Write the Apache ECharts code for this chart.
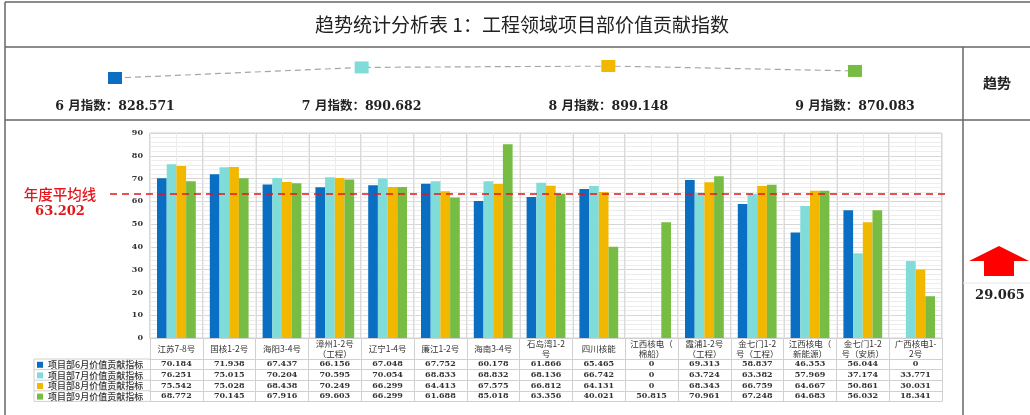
<!DOCTYPE html>
<html>
<head>
<meta charset="utf-8">
<script src="https://cdn.jsdelivr.net/npm/echarts@6.0.0/dist/echarts.min.js"></script>
<style>
html, body { margin: 0; padding: 0; background: #fff; }
#main { width: 1030px; height: 415px; }
</style>
</head>
<body>
<div id="main"></div>
<script>
const title = '趋势统计分析表 1：工程领域项目部价值贡献指数'
const months = ['6', '7', '8', '9']
const monthIndex = [828.571, 890.682, 899.148, 870.083]
const trendLabel = '趋势'
const trendDelta = 29.065
const avgName = '年度平均线'
const yearAvg = 63.202
const yTicks = [0, 10, 20, 30, 40, 50, 60, 70, 80, 90]

const categories = [
	'江苏7-8号', '国核1-2号', '海阳3-4号', '漳州1-2号\n（工程）', '辽宁1-4号',
	'廉江1-2号', '海南3-4号', '石岛湾1-2\n号', '四川核能', '江西核电（\n棉船）',
	'霞浦1-2号\n（工程）', '金七门1-2\n号（工程）', '江西核电（\n新能源）', '金七门1-2\n号（安质）', '广西核电1-\n2号',
]
const seriesNames = ['项目部6月价值贡献指标', '项目部7月价值贡献指标', '项目部8月价值贡献指标', '项目部9月价值贡献指标']
const jun = [70.184, 71.938, 67.437, 66.156, 67.048, 67.752, 60.178, 61.866, 65.465, 0, 69.313, 58.837, 46.353, 56.044, 0]
const jul = [76.251, 75.015, 70.204, 70.595, 70.054, 68.833, 68.832, 68.136, 66.742, 0, 63.724, 63.382, 57.969, 37.174, 33.771]
const aug = [75.542, 75.028, 68.438, 70.249, 66.299, 64.413, 67.575, 66.812, 64.131, 0, 68.343, 66.759, 64.667, 50.861, 30.031]
const sep = [68.772, 70.145, 67.916, 69.603, 66.299, 61.688, 85.018, 63.356, 40.021, 50.815, 70.961, 67.248, 64.683, 56.032, 18.341]

const colors = ['#0a6fc2', '#7fdcd8', '#f2b800', '#77bc43']
const serif = '"DejaVu Serif", "Noto Sans CJK SC", serif'
const cjk = '"Noto Sans CJK SC", sans-serif'

// layout of the chart block and the table under it
const plot = { left: 150, right: 942, top: 133, bottom: 338 }
const headH = 21
const rowH = 10.6
const lineColor = '#666'
const cellColor = '#d0d0d0'

const fmt = v => (v === 0 ? '0' : v.toFixed(3))
const monthData = [jun, jul, aug, sep]

const chart = echarts.init(document.getElementById('main'))

// table rows: one category axis per month, its ticks draw the cell borders
const rowAxes = monthData.map((arr, i) => ({
	type: 'category',
	gridIndex: 1,
	position: 'bottom',
	offset: headH + i * rowH,
	data: arr.map(fmt),
	axisLine: { show: true, lineStyle: { color: cellColor, width: 1 } },
	axisTick: { show: true, interval: 0, length: rowH, lineStyle: { color: cellColor } },
	axisLabel: {
		interval: 0, margin: rowH / 2, verticalAlign: 'middle',
		fontFamily: serif, fontWeight: 'bold', fontSize: 8, color: '#333',
	},
	splitLine: { show: false },
}))

const frame = [
	[5, 2, 1030, 2], [5, 2, 5, 415], [5, 47, 1030, 47], [963, 47, 963, 415], [5, 120, 1030, 120],
]
const legendCells = []
for (let i = 0; i <= 4; i++) {
	const y = plot.bottom + headH + i * rowH
	legendCells.push({ type: 'line', shape: { x1: 34, y1: y, x2: plot.left, y2: y }, style: { stroke: cellColor, lineWidth: 1 } })
}
legendCells.push({ type: 'line', shape: { x1: 34, y1: plot.bottom + headH, x2: 34, y2: plot.bottom + headH + 4 * rowH }, style: { stroke: cellColor, lineWidth: 1 } })

const option = {
	animation: false,
	grid: [
		{ left: 115, right: 1030 - 855, top: 66, height: 12 },
		{ left: plot.left, right: 1030 - plot.right, top: plot.top, bottom: 415 - plot.bottom, show: true, borderColor: cellColor, borderWidth: 1 },
		{ left: 110, right: 80, top: plot.top, bottom: 415 - plot.bottom },
	],
	legend: {
		data: seriesNames,
		orient: 'vertical',
		left: 37,
		top: plot.bottom + headH + 0.5,
		padding: 0,
		itemGap: 0,
		itemWidth: 6,
		itemHeight: 6,
		icon: 'rect',
		selectedMode: false,
		textStyle: { fontFamily: cjk, fontSize: 9, fontWeight: 500, lineHeight: rowH, height: rowH, color: '#333', padding: 0 },
	},
	xAxis: [
		{
			type: 'category', gridIndex: 0, data: months, boundaryGap: false,
			axisLine: { show: false }, axisTick: { show: false }, splitLine: { show: false },
			axisLabel: {
				margin: 22, fontFamily: serif, fontWeight: 'bold', fontSize: 12.5, color: '#222',
				formatter: (v, i) => `${v} 月指数：${monthIndex[i].toFixed(3)}`,
			},
		},
		{
			type: 'category', gridIndex: 1, data: categories, position: 'bottom',
			axisLine: { show: true, lineStyle: { color: cellColor } },
			axisTick: { show: true, interval: 0, length: headH, lineStyle: { color: cellColor } },
			splitLine: { show: true, interval: 0, lineStyle: { color: '#d0d0d0', width: 1.5 } },
			axisLabel: {
				interval: 0, margin: headH / 2, verticalAlign: 'middle', lineHeight: 10,
				fontFamily: cjk, fontSize: 8.5, color: '#333',
			},
		},
		{
			type: 'value', gridIndex: 1, position: 'top', min: 0, max: categories.length * 2, interval: 1,
			axisLine: { show: false }, axisTick: { show: false }, axisLabel: { show: false },
			splitLine: { show: true, lineStyle: { color: '#ececec', width: 1 } },
		},
		...rowAxes,
		{
			type: 'category', gridIndex: 1, position: 'bottom', offset: headH + 4 * rowH, data: categories,
			axisLine: { show: true, lineStyle: { color: cellColor } },
			axisTick: { show: false }, axisLabel: { show: false }, splitLine: { show: false },
		},
		{ type: 'value', gridIndex: 2, min: 0, max: 1, show: false },
	],
	yAxis: [
		{ type: 'value', gridIndex: 0, min: v => v.min, max: v => v.max, show: false },
		{
			type: 'value', gridIndex: 1, min: yTicks[0], max: yTicks[yTicks.length - 1], interval: yTicks[1] - yTicks[0],
			axisLine: { show: false }, axisTick: { show: false },
			axisLabel: { margin: 7, fontFamily: serif, fontWeight: 'bold', fontSize: 8, color: '#333' },
			splitLine: { show: true, lineStyle: { color: '#d6d6d6', width: 1 } },
			minorTick: { show: false, splitNumber: 5 },
			minorSplitLine: { show: true, lineStyle: { color: '#ededed', width: 1 } },
		},
		{ type: 'value', gridIndex: 2, min: yTicks[0], max: yTicks[yTicks.length - 1], show: false },
	],
	series: [
		{
			name: '月指数',
			type: 'line',
			xAxisIndex: 0,
			yAxisIndex: 0,
			data: monthIndex.map((v, i) => ({ value: v, itemStyle: { color: colors[i] } })),
			symbol: 'rect',
			symbolSize: [14, 12],
			lineStyle: { color: '#a6a6a6', width: 1.2, type: [6, 4] },
			z: 3,
		},
		...monthData.map((arr, i) => ({
			name: seriesNames[i],
			type: 'bar',
			xAxisIndex: 1,
			yAxisIndex: 1,
			data: arr,
			barWidth: 9.7,
			barGap: '0%',
			itemStyle: { color: colors[i] },
		})),
		{
			name: avgName,
			type: 'line',
			xAxisIndex: rowAxes.length + 4,
			yAxisIndex: 2,
			data: [],
			markLine: {
				silent: true,
				symbol: 'none',
				lineStyle: { color: '#e3161c', width: 1.5, type: [7, 5] },
				label: {
					show: true,
					position: 'start',
					distance: 50,
					align: 'center',
					verticalAlign: 'middle',
					lineHeight: 18,
					color: '#e3161c',
					formatter: () => `\n{a|${avgName}}\n{b|${yearAvg.toFixed(3)}}`,
					rich: {
						a: { fontFamily: cjk, fontSize: 14.5, fontWeight: 500, color: '#e3161c', lineHeight: 18 },
						b: { fontFamily: serif, fontSize: 13, fontWeight: 'bold', color: '#e3161c', lineHeight: 18 },
					},
				},
				data: [{ yAxis: yearAvg }],
			},
		},
	],
	graphic: [
		...frame.map(([x1, y1, x2, y2]) => ({ type: 'line', shape: { x1, y1, x2, y2 }, style: { stroke: lineColor, lineWidth: 1.5 } })),
		{ type: 'line', shape: { x1: 963, y1: 283, x2: 1030, y2: 283 }, style: { stroke: '#e6e6e6', lineWidth: 1 } },
		...legendCells,
		{ type: 'text', x: 522, y: 25, style: { text: title, font: `19px ${cjk}`, fill: '#222', align: 'center', verticalAlign: 'middle' } },
		{ type: 'text', x: 997, y: 83, style: { text: trendLabel, font: `bold 14px ${cjk}`, fill: '#222', align: 'center', verticalAlign: 'middle' } },
		{
			type: 'polygon',
			shape: { points: [[999, 246], [1029, 261], [1014, 261], [1014, 276], [984, 276], [984, 261], [969, 261]] },
			style: { fill: '#ff0000' },
		},
		{ type: 'text', x: 1000, y: 296, style: { text: trendDelta.toFixed(3), font: `bold 13px ${serif}`, fill: '#222', align: 'center', verticalAlign: 'middle' } },
	],
}

chart.setOption(option)
</script>
</body>
</html>
